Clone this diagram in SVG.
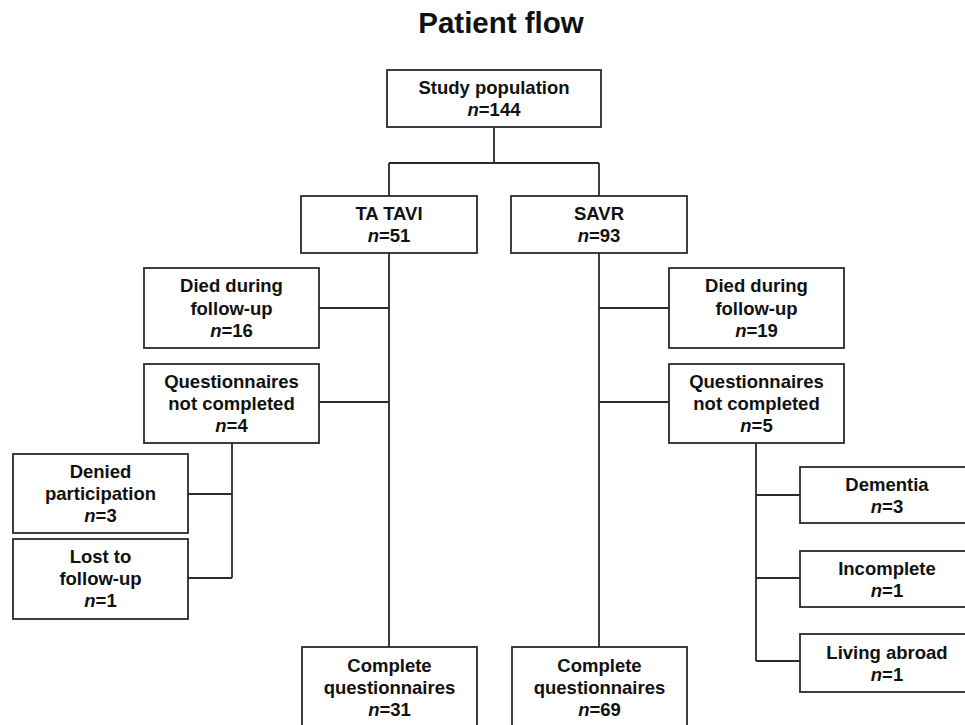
<svg xmlns="http://www.w3.org/2000/svg" width="965" height="725" viewBox="0 0 965 725">
<style>
.box{fill:#fff;stroke:#2b2b2b;stroke-width:1.8}
.lbl{font-family:"Liberation Sans",Arial,sans-serif;font-weight:bold;font-size:18.5px;fill:#111;text-anchor:middle}
.title{font-family:"Liberation Sans",Arial,sans-serif;font-weight:bold;font-size:29.5px;fill:#111;text-anchor:middle}
.conn{fill:none;stroke:#2b2b2b;stroke-width:1.8}
.it{font-style:italic}
</style>
<rect width="965" height="725" fill="#fff"/>
<text class="title" x="501" y="33">Patient flow</text>
<g id="connectors" class="conn">
<path d="M494,127V163M389,163H599M389,163V196M599,163V196"/>
<path d="M389,253V647M319,308H389M319,402H389"/>
<path d="M599,253V647M599,308H669M599,402H669"/>
<path d="M232,443V578M188,494H232M188,578H232"/>
<path d="M756,443V661M756,495H800M756,578H800M756,661H800"/>
</g>
<g id="study">
<rect class="box" x="387" y="70" width="214" height="57"/>
<text class="lbl" x="494" y="94">Study population</text>
<text class="lbl" x="494" y="116"><tspan class="it">n</tspan>=144</text>
</g>
<g id="tatavi">
<rect class="box" x="301" y="196" width="176" height="57"/>
<text class="lbl" x="389" y="220">TA TAVI</text>
<text class="lbl" x="389" y="242"><tspan class="it">n</tspan>=51</text>
</g>
<g id="savr">
<rect class="box" x="511" y="196" width="176" height="57"/>
<text class="lbl" x="599" y="220">SAVR</text>
<text class="lbl" x="599" y="242"><tspan class="it">n</tspan>=93</text>
</g>
<g id="died-left">
<rect class="box" x="144" y="268" width="175" height="80"/>
<text class="lbl" x="231.5" y="292">Died during</text>
<text class="lbl" x="231.5" y="315">follow-up</text>
<text class="lbl" x="231.5" y="337"><tspan class="it">n</tspan>=16</text>
</g>
<g id="qnc-left">
<rect class="box" x="144" y="364" width="175" height="79"/>
<text class="lbl" x="231.5" y="388">Questionnaires</text>
<text class="lbl" x="231.5" y="410">not completed</text>
<text class="lbl" x="231.5" y="432"><tspan class="it">n</tspan>=4</text>
</g>
<g id="died-right">
<rect class="box" x="669" y="268" width="175" height="80"/>
<text class="lbl" x="756.5" y="292">Died during</text>
<text class="lbl" x="756.5" y="315">follow-up</text>
<text class="lbl" x="756.5" y="337"><tspan class="it">n</tspan>=19</text>
</g>
<g id="qnc-right">
<rect class="box" x="669" y="364" width="175" height="79"/>
<text class="lbl" x="756.5" y="388">Questionnaires</text>
<text class="lbl" x="756.5" y="410">not completed</text>
<text class="lbl" x="756.5" y="432"><tspan class="it">n</tspan>=5</text>
</g>
<g id="denied">
<rect class="box" x="13" y="454" width="175" height="79"/>
<text class="lbl" x="100.5" y="478">Denied</text>
<text class="lbl" x="100.5" y="500">participation</text>
<text class="lbl" x="100.5" y="522"><tspan class="it">n</tspan>=3</text>
</g>
<g id="lost">
<rect class="box" x="13" y="539" width="175" height="80"/>
<text class="lbl" x="100.5" y="563">Lost to</text>
<text class="lbl" x="100.5" y="585">follow-up</text>
<text class="lbl" x="100.5" y="607"><tspan class="it">n</tspan>=1</text>
</g>
<g id="dementia">
<rect class="box" x="800" y="467" width="175" height="56"/>
<text class="lbl" x="887" y="491">Dementia</text>
<text class="lbl" x="887" y="513"><tspan class="it">n</tspan>=3</text>
</g>
<g id="incomplete">
<rect class="box" x="800" y="551" width="175" height="56"/>
<text class="lbl" x="887" y="575">Incomplete</text>
<text class="lbl" x="887" y="597"><tspan class="it">n</tspan>=1</text>
</g>
<g id="abroad">
<rect class="box" x="800" y="634" width="175" height="58"/>
<text class="lbl" x="887" y="659">Living abroad</text>
<text class="lbl" x="887" y="681"><tspan class="it">n</tspan>=1</text>
</g>
<g id="complete-left">
<rect class="box" x="302" y="647" width="175" height="90"/>
<text class="lbl" x="389.5" y="672">Complete</text>
<text class="lbl" x="389.5" y="694">questionnaires</text>
<text class="lbl" x="389.5" y="716"><tspan class="it">n</tspan>=31</text>
</g>
<g id="complete-right">
<rect class="box" x="512" y="647" width="175" height="90"/>
<text class="lbl" x="599.5" y="672">Complete</text>
<text class="lbl" x="599.5" y="694">questionnaires</text>
<text class="lbl" x="599.5" y="716"><tspan class="it">n</tspan>=69</text>
</g>
</svg>
